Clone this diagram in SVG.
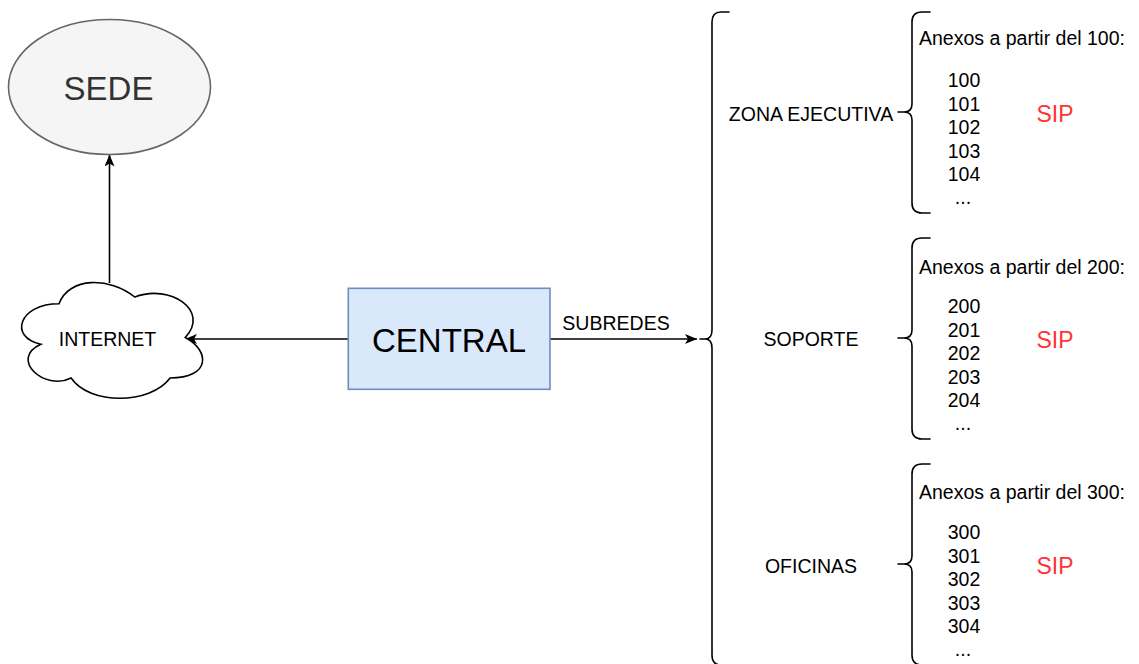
<svg xmlns="http://www.w3.org/2000/svg" width="1139" height="664" viewBox="0 0 1139 664">
  <style>
    text { font-family: "Liberation Sans", Arial, Helvetica, sans-serif; fill: #000; }
    .sm { font-size: 19.5px; }
    .big { font-size: 33px; }
    .mid { text-anchor: middle; }
    .sip { font-size: 23px; fill: #ff3333; text-anchor: middle; }
    .edge { fill: none; stroke: #000; stroke-width: 1.6; }
    .brace { fill: none; stroke: #000; stroke-width: 1.6; stroke-linecap: round; }
  </style>
  <defs>
    <marker id="arrow" viewBox="0 0 12 10" refX="12" refY="5" markerWidth="12" markerHeight="10" markerUnits="userSpaceOnUse" orient="auto">
      <path d="M0,0 L12,5 L0,10 L3,5 Z" fill="#000"/>
    </marker>
    <!-- small curly bracket, drawn at the first group's position -->
    <path id="smallBrace" class="brace" d="M930,12 L922,12 Q912,12 912,22 L912,104 Q912,112 904,112 L898,112 M904,112 Q912,112 912,120 L912,203 Q912,213 922,213 L930,213"/>
  </defs>

  <!-- connectors -->
  <g id="connectors">
    <path class="edge" d="M109.5,283 L109.5,154.5" marker-end="url(#arrow)"/>
    <path class="edge" d="M348,339 L185,339" marker-end="url(#arrow)"/>
    <path class="edge" d="M550,339 L697,339" marker-end="url(#arrow)"/>
    <text class="sm mid" x="616" y="330">SUBREDES</text>
  </g>

  <g id="sede">
    <ellipse cx="109.5" cy="87" rx="101" ry="67.5" fill="#f5f5f5" stroke="#666" stroke-width="1.6"/>
    <text class="big mid" x="108.5" y="100" style="fill:#333">SEDE</text>
  </g>

  <g id="internet">
    <path fill="#fff" stroke="#000" stroke-width="1.6" transform="translate(8.5,270) scale(202,135)" vector-effect="non-scaling-stroke"
      d="M0.25,0.25 C0.05,0.25 0,0.5 0.16,0.55 C0,0.66 0.18,0.9 0.31,0.8 C0.4,1 0.7,1 0.8,0.8 C1,0.8 1,0.6 0.875,0.5 C1,0.3 0.8,0.1 0.625,0.2 C0.5,0.05 0.3,0.05 0.25,0.25 Z"/>
    <text class="sm mid" x="107.5" y="346">INTERNET</text>
  </g>

  <g id="central">
    <rect x="348.3" y="288.3" width="201.7" height="101" fill="#dae8fc" stroke="#6c8ebf" stroke-width="1.6"/>
    <text class="big mid" x="449" y="351.5">CENTRAL</text>
  </g>

  <g id="subredes-brace">
    <path class="brace" d="M729,12 L721,12 Q712,12 712,22 L712,330 Q712,339 705,339 L700,339 M705,339 Q712,339 712,348 L712,655 Q712,665 721,665 L729,665"/>
  </g>

  <g id="zona-ejecutiva">
    <text class="sm mid" x="811" y="120.5">ZONA EJECUTIVA</text>
    <use href="#smallBrace"/>
    <text class="sm" x="919" y="45">Anexos a partir del 100:</text>
    <g class="sm mid">
      <text x="964" y="87">100</text>
      <text x="964" y="110.5">101</text>
      <text x="964" y="134">102</text>
      <text x="964" y="157.5">103</text>
      <text x="964" y="181">104</text>
      <text x="963" y="204">...</text>
    </g>
    <text class="sip" x="1055" y="121.5">SIP</text>
  </g>

  <g id="soporte">
    <text class="sm mid" x="811" y="346">SOPORTE</text>
    <use href="#smallBrace" transform="translate(0,226)"/>
    <text class="sm" x="919" y="274">Anexos a partir del 200:</text>
    <g class="sm mid">
      <text x="964" y="313">200</text>
      <text x="964" y="336.5">201</text>
      <text x="964" y="360">202</text>
      <text x="964" y="383.5">203</text>
      <text x="964" y="407">204</text>
      <text x="963" y="430">...</text>
    </g>
    <text class="sip" x="1055" y="347.5">SIP</text>
  </g>

  <g id="oficinas">
    <text class="sm mid" x="811" y="572.5">OFICINAS</text>
    <use href="#smallBrace" transform="translate(0,452)"/>
    <text class="sm" x="919" y="499">Anexos a partir del 300:</text>
    <g class="sm mid">
      <text x="964" y="539">300</text>
      <text x="964" y="562.5">301</text>
      <text x="964" y="586">302</text>
      <text x="964" y="609.5">303</text>
      <text x="964" y="633">304</text>
      <text x="963" y="656">...</text>
    </g>
    <text class="sip" x="1055" y="573.5">SIP</text>
  </g>
</svg>
